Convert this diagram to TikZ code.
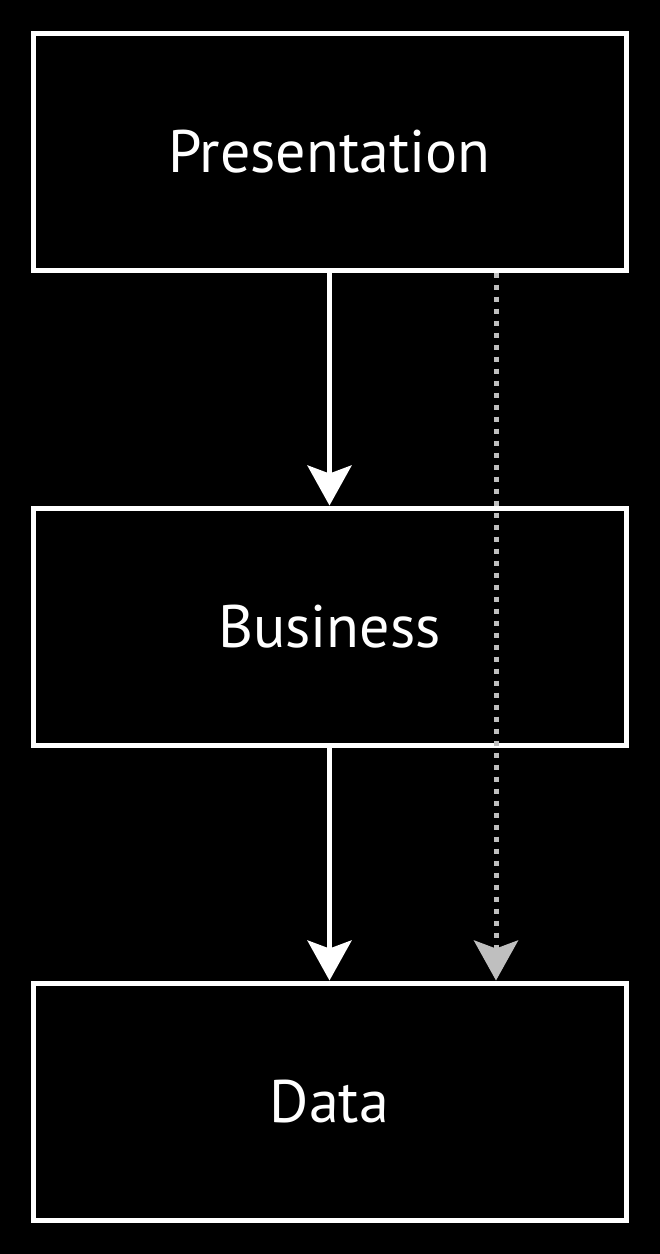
\documentclass[tikz,border=0pt]{standalone}
\usepackage{fontspec}
\setmainfont{PT Sans}
\usetikzlibrary{positioning,arrows.meta}

\begin{document}
\begin{tikzpicture}[
x=1pt,y=-1pt,
layer/.style={
  draw=white,
  line width=5pt,
  minimum width=593pt,
  minimum height=237pt,
  inner sep=0pt,
  text=white,
  font=\fontsize{60}{62}\selectfont
},
call/.style={
  draw=white,
  line width=5pt,
  -{Stealth[length=40pt,width=44pt,inset=8pt]}
},
bypass/.style={
  draw=black!25,
  line width=5pt,
  dash pattern=on 5pt off 7pt,
  -{Stealth[length=40pt,width=44pt,inset=8pt]}
},
node distance=233pt
]
\fill[black] (0,0) rectangle (660,1254);
\node[layer] at (329.5,151.5) (presentation) {Presentation};
\node[layer,below=of presentation] (business) {Business};
\node[layer,below=of business] (data) {Data};

\draw[call] (presentation) -- (business);
\draw[call] (business) -- (data);

% shortcut past the business layer
\coordinate (skiptop) at ([xshift=166.5pt]presentation.south);
\coordinate (skipend) at ([xshift=166.5pt]data.north);
\draw[bypass] (skiptop) -- (skipend);
\end{tikzpicture}
\end{document}
